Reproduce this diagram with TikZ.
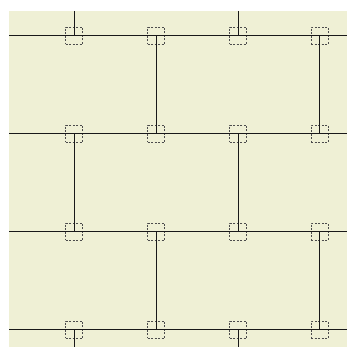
\documentclass[tikz,border=0pt]{standalone}
\usetikzlibrary{calc}
\definecolor{bgcol}{RGB}{239,240,213}
\tikzset{
  port/.style={draw=black!70, dash pattern=on 2pt off 1.5pt, line width=0.6pt, minimum size=17pt, inner sep=0pt, fill=none},
  wire/.style={draw=black!90, line width=1pt}
}
\begin{document}
\begin{tikzpicture}[x=1pt,y=-1pt]
\useasboundingbox (0,0) rectangle (347,347);
\fill[bgcol] (9,11) rectangle (347,347);
% nodes
\foreach \c/\x in {0/74,1/156,2/238,3/319.5}{
  \foreach \r/\y in {0/35.7,1/133.7,2/231.7,3/329.7}{
    \node[port] (n\c\r) at (\x,\y) {};
  }
}
% free ends
\foreach \r/\y in {0/35.7,1/133.7,2/231.7,3/329.7}{
  \coordinate (L\r) at (9,\y);
  \coordinate (R\r) at (347,\y);
}
\coordinate (T0) at (74,11);
\coordinate (T2) at (238,11);
\coordinate (B0) at (74,347);
\coordinate (B2) at (238,347);
% horizontal wires
\foreach \r in {0,1,2,3}{
  \draw[wire] (L\r) -- (n0\r.center) -- (n1\r.center) -- (n2\r.center) -- (n3\r.center) -- (R\r);
}
% vertical wires
\draw[wire] (T0) -- (n00.center);
\draw[wire] (T2) -- (n20.center);
\draw[wire] (n01.center) -- (n02.center);
\draw[wire] (n21.center) -- (n22.center);
\draw[wire] (n10.center) -- (n11.center);
\draw[wire] (n30.center) -- (n31.center);
\draw[wire] (n12.center) -- (n13.center);
\draw[wire] (n32.center) -- (n33.center);
\draw[wire] (n03.center) -- (B0);
\draw[wire] (n23.center) -- (B2);
\end{tikzpicture}
\end{document}
